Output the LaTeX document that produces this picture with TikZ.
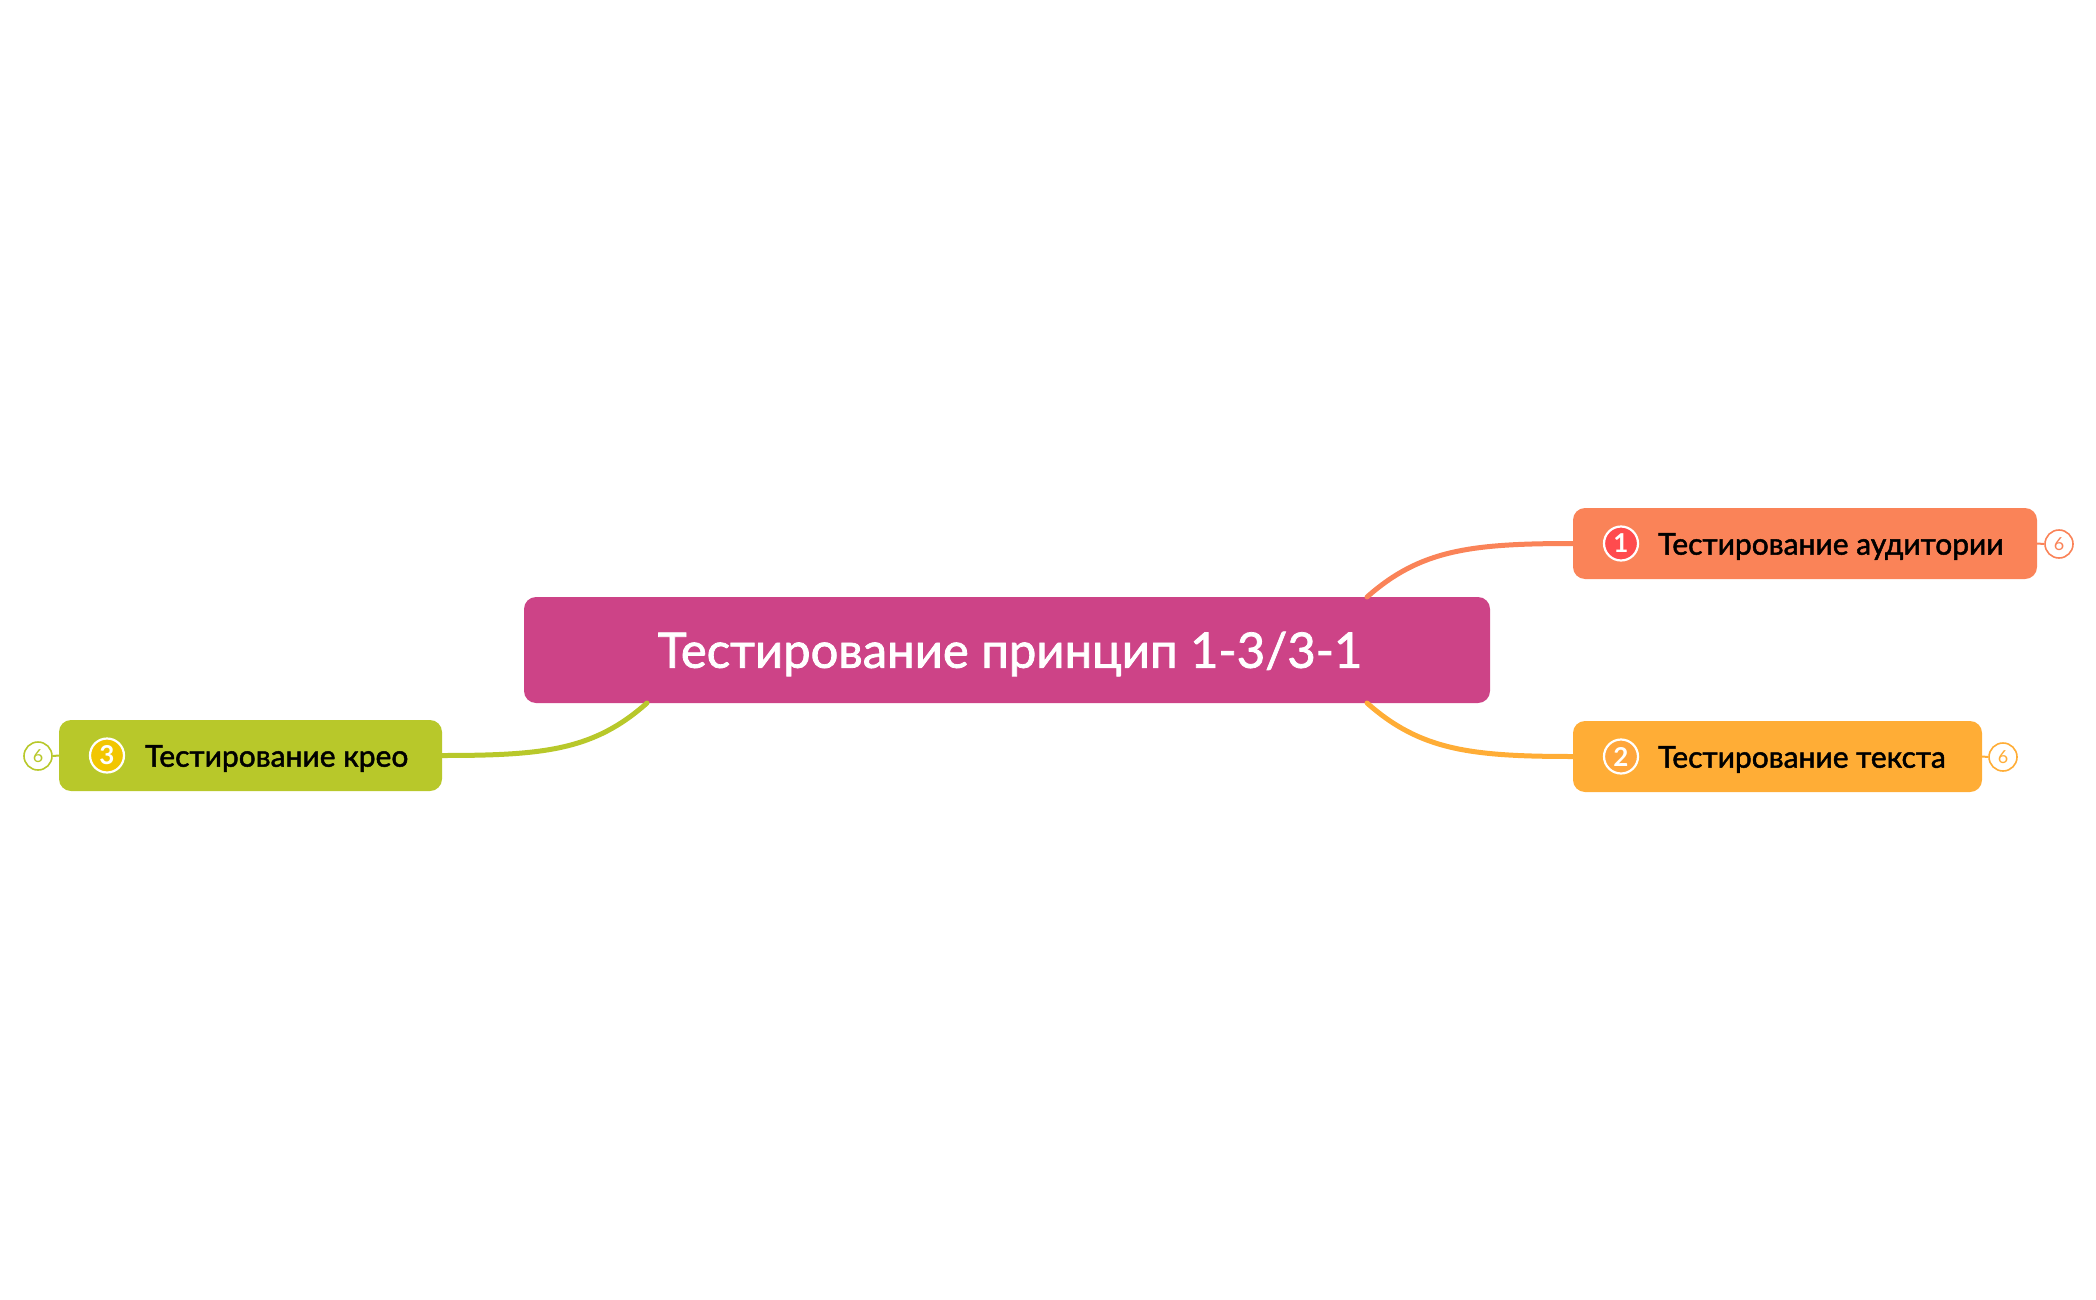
\documentclass[tikz,border=0pt]{standalone}
\usepackage{fontspec}
\setmainfont{Lato}
\newfontfamily\medfont{Lato}[FakeBold=1.6]
\usetikzlibrary{calc}
\definecolor{cmain}{HTML}{CD4387}
\definecolor{cone}{HTML}{FA8358}
\definecolor{ctwo}{HTML}{FFAD36}
\definecolor{cthree}{HTML}{B8C82A}
\definecolor{bone}{HTML}{FF4B4E}
\definecolor{btwo}{HTML}{FFA63C}
\definecolor{bthree}{HTML}{F2C600}
\tikzset{
  topic/.style={rounded corners=12pt, inner sep=0pt, outer sep=0pt},
  badge/.style={circle, minimum size=34pt, inner sep=0pt, draw=white, line width=2.2pt, text=white, font=\fontsize{26}{26}\selectfont\bfseries},
  label/.style={anchor=west, inner sep=0pt, text=black, font=\medfont\fontsize{30}{30}\selectfont},
  count/.style={circle, minimum size=28pt, inner sep=0pt, fill=white, line width=1.6pt, font=\fontsize{18}{18}\selectfont},
  link/.style={line width=5pt, line cap=round},
}
\begin{document}
\begin{tikzpicture}[x=1pt,y=-1pt]
\useasboundingbox (0,0) rectangle (2096,1300);
% main topic
\node[topic, fill=cmain, minimum width=966pt, minimum height=106pt] (main) at (1007,650) {};
\node[inner sep=0pt, text=white, font=\medfont\fontsize{49}{49}\selectfont] (title) at (1010,654) {Тестирование принцип 1-3/3-1};
% subtopics
\node[topic, fill=cone, minimum width=464pt, minimum height=71pt] (t1) at (1805,543.5) {};
\node[topic, fill=ctwo, minimum width=409pt, minimum height=71pt] (t2) at (1777.5,756.5) {};
\node[topic, fill=cthree, minimum width=383pt, minimum height=71pt] (t3) at (250.5,755.5) {};
% badges and labels
\node[badge, fill=bone] (b1) at (1621,543.5) {1};
\node[label] (l1) at (1658,546.5) {Тестирование аудитории};
\node[badge, fill=btwo] (b2) at (1621,756.5) {2};
\node[label] (l2) at (1658,759.5) {Тестирование текста};
\node[badge, fill=bthree] (b3) at (107,755.5) {3};
\node[label] (l3) at (145,758.5) {Тестирование крео};
% counts
\node[count, draw=cone, text=cone] (n1) at (2059,544) {6};
\node[count, draw=ctwo, text=ctwo] (n2) at (2003,757) {6};
\node[count, draw=cthree, text=cthree] (n3) at (38,756) {6};
\draw[cone, line width=2pt] (t1.east) -- (n1.west);
\draw[ctwo, line width=2pt] (t2.east) -- (n2.west);
\draw[cthree, line width=2pt] (t3.west) -- (n3.east);
% connectors
\coordinate (m1) at ([xshift=-123pt]main.north east);
\coordinate (m2) at ([xshift=-123pt]main.south east);
\coordinate (m3) at ([xshift=123pt]main.south west);
\draw[link, cone] (m1) .. controls ($(m1)+(53,-47)$) and ($(t1.west)+(-103,0)$) .. (t1.west);
\draw[link, ctwo] (m2) .. controls ($(m2)+(53,47)$) and ($(t2.west)+(-103,0)$) .. (t2.west);
\draw[link, cthree] (m3) .. controls ($(m3)+(-53,47)$) and ($(t3.east)+(103,0)$) .. (t3.east);
\end{tikzpicture}
\end{document}
